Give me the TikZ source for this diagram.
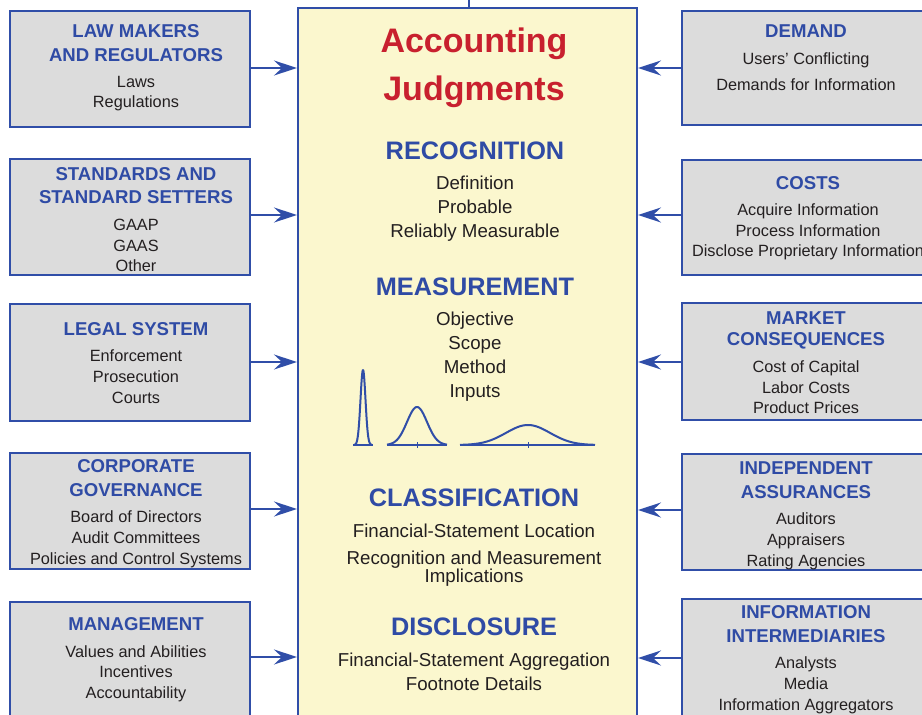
\documentclass[tikz,border=0pt]{standalone}
\usepackage{fontspec}
\setmainfont{Liberation Sans}
\usetikzlibrary{arrows.meta}
\definecolor{bblue}{RGB}{48,78,168}
\definecolor{tblue}{RGB}{47,75,165}
\definecolor{ared}{RGB}{200,32,46}
\definecolor{cyel}{RGB}{251,247,206}
\definecolor{bgray}{RGB}{220,220,220}
\definecolor{tdark}{RGB}{35,31,32}
\begin{document}
\begin{tikzpicture}[x=1pt,y=-1pt,
  box/.style={draw=bblue, line width=2pt, fill=bgray, inner sep=0pt},
  cbox/.style={draw=bblue, line width=2pt, fill=cyel, inner sep=0pt},
  hd/.style={font=\bfseries\fontsize{18.6}{20}\selectfont, text=tblue, inner sep=0pt, text height=13.3pt, text depth=0pt},
  bd/.style={font=\fontsize{16.3}{18}\selectfont, text=tdark, inner sep=0pt, text height=11.7pt, text depth=0pt},
  ch/.style={font=\bfseries\fontsize{25.3}{27}\selectfont, text=tblue, inner sep=0pt, text height=18.1pt, text depth=0pt},
  cb/.style={font=\fontsize{18.7}{20}\selectfont, text=tdark, inner sep=0pt, text height=13.4pt, text depth=0pt},
  ct/.style={font=\bfseries\fontsize{34}{36}\selectfont, text=ared, inner sep=0pt, text height=24.3pt, text depth=0pt},
  arr/.style={draw=bblue, line width=2pt, -{Stealth[length=23pt,width=15pt,inset=8pt]}},
  curve/.style={draw=bblue, line width=2pt, line join=round},
  axis/.style={draw=bblue, line width=1.5pt},
  tick/.style={draw=bblue, line width=0.8pt}
]
\useasboundingbox (0,0) rectangle (922,715);
\clip (0,0) rectangle (922,715);

% centre box
\node[cbox, minimum width=339pt, minimum height=732pt] (C) at (467.5,374) {};
\coordinate (top) at (469,0);
\draw[draw=bblue, line width=2pt] (top) -- (top |- C.north);

% left boxes
\node[box, minimum width=240pt, minimum height=116pt] (L1) at (130,69) {};
\node[box, minimum width=240pt, minimum height=116pt] (L2) at (130,217) {};
\node[box, minimum width=240pt, minimum height=117pt] (L3) at (130,362.5) {};
\node[box, minimum width=240pt, minimum height=116pt] (L4) at (130,511) {};
\node[box, minimum width=240pt, minimum height=130pt] (L5) at (130,667) {};

% right boxes
\node[box, minimum width=253pt, minimum height=114pt] (R1) at (808.5,68) {};
\node[box, minimum width=253pt, minimum height=115pt] (R2) at (808.5,217.5) {};
\node[box, minimum width=253pt, minimum height=117pt] (R3) at (808.5,361.5) {};
\node[box, minimum width=253pt, minimum height=116pt] (R4) at (808.5,512) {};
\node[box, minimum width=253pt, minimum height=130pt] (R5) at (808.5,664) {};

% arrows
\coordinate (ya) at (0,68);
\coordinate (yb) at (0,215);
\coordinate (yc) at (0,362);
\coordinate (yd) at (0,509);
\coordinate (ye) at (0,657);
\draw[arr] (L1.east |- ya) -- (C.west |- ya);
\draw[arr] (L2.east |- yb) -- (C.west |- yb);
\draw[arr] (L3.east |- yc) -- (C.west |- yc);
\draw[arr] (L4.east |- yd) -- (C.west |- yd);
\draw[arr] (L5.east |- ye) -- (C.west |- ye);
\coordinate (za) at (0,68);
\coordinate (zb) at (0,215);
\coordinate (zc) at (0,362);
\coordinate (zd) at (0,510);
\coordinate (ze) at (0,658);
\draw[arr] (R1.west |- za) -- (C.east |- za);
\draw[arr] (R2.west |- zb) -- (C.east |- zb);
\draw[arr] (R3.west |- zc) -- (C.east |- zc);
\draw[arr] (R4.west |- zd) -- (C.east |- zd);
\draw[arr] (R5.west |- ze) -- (C.east |- ze);

% left texts
\node[hd] (l1a) at (136,31) {LAW MAKERS};
\node[hd] (l1b) at (136,55) {AND REGULATORS};
\node[bd] (l1c) at (136,82) {Laws};
\node[bd] (l1d) at (136,102) {Regulations};

\node[hd] (l2a) at (136,174) {STANDARDS AND};
\node[hd] (l2b) at (136,197) {STANDARD SETTERS};
\node[bd] (l2c) at (136,225) {GAAP};
\node[bd] (l2d) at (136,246) {GAAS};
\node[bd] (l2e) at (136,266) {Other};

\node[hd] (l3a) at (136,329) {LEGAL SYSTEM};
\node[bd] (l3b) at (136,356) {Enforcement};
\node[bd] (l3c) at (136,377) {Prosecution};
\node[bd] (l3d) at (136,398) {Courts};

\node[hd] (l4a) at (136,466) {CORPORATE};
\node[hd] (l4b) at (136,490) {GOVERNANCE};
\node[bd] (l4c) at (136,517) {Board of Directors};
\node[bd] (l4d) at (136,538) {Audit Committees};
\node[bd] (l4e) at (136,559) {Policies and Control Systems};

\node[hd] (l5a) at (136,624) {MANAGEMENT};
\node[bd] (l5b) at (136,652) {Values and Abilities};
\node[bd] (l5c) at (136,672) {Incentives};
\node[bd] (l5d) at (136,693) {Accountability};

% right texts
\node[hd] (r1a) at (806,31) {DEMAND};
\node[bd] (r1b) at (806,59) {Users’ Conflicting};
\node[bd] (r1c) at (806,85) {Demands for Information};

\node[hd] (r2a) at (808,183) {COSTS};
\node[bd] (r2b) at (808,210) {Acquire Information};
\node[bd] (r2c) at (808,231) {Process Information};
\node[bd] (r2d) at (808,251) {Disclose Proprietary Information};

\node[hd] (r3a) at (806,318) {MARKET};
\node[hd] (r3b) at (806,339) {CONSEQUENCES};
\node[bd] (r3c) at (806,367) {Cost of Capital};
\node[bd] (r3d) at (806,388) {Labor Costs};
\node[bd] (r3e) at (806,408) {Product Prices};

\node[hd] (r4a) at (806,468) {INDEPENDENT};
\node[hd] (r4b) at (806,492) {ASSURANCES};
\node[bd] (r4c) at (806,519) {Auditors};
\node[bd] (r4d) at (806,540) {Appraisers};
\node[bd] (r4e) at (806,561) {Rating Agencies};

\node[hd] (r5a) at (806,612) {INFORMATION};
\node[hd] (r5b) at (806,636) {INTERMEDIARIES};
\node[bd] (r5c) at (806,663) {Analysts};
\node[bd] (r5d) at (806,684) {Media};
\node[bd] (r5e) at (806,705) {Information Aggregators};

% centre texts
\node[ct] (c1) at (474,40) {Accounting};
\node[ct] (c2) at (474,88) {Judgments};
\node[ch] (c3) at (475,150) {RECOGNITION};
\node[cb] (c4) at (475,183) {Definition};
\node[cb] (c5) at (475,207) {Probable};
\node[cb] (c6) at (475,231) {Reliably Measurable};
\node[ch] (c7) at (475,286) {MEASUREMENT};
\node[cb] (c8) at (475,319) {Objective};
\node[cb] (c9) at (475,343) {Scope};
\node[cb] (c10) at (475,367) {Method};
\node[cb] (c11) at (475,391) {Inputs};
\node[ch] (c12) at (474,497) {CLASSIFICATION};
\node[cb] (c13) at (474,531) {Financial-Statement Location};
\node[cb] (c14) at (474,558) {Recognition and Measurement};
\node[cb] (c15) at (474,576) {Implications};
\node[ch] (c16) at (474,626) {DISCLOSURE};
\node[cb] (c17) at (474,660) {Financial-Statement Aggregation};
\node[cb] (c18) at (474,684) {Footnote Details};

% distribution curves
\draw[axis] (353,445) -- (373,445);
\draw[axis] (387,445) -- (447,445);
\draw[axis] (460,445) -- (595,445);
\draw[tick] (417,442) -- (417,448);
\draw[tick] (528,442) -- (528,448);
\draw[curve] plot[domain=-9:9, samples=80, smooth] ({363+\x},{445-75*exp(-\x*\x/12.5)});
\draw[curve] plot[domain=-30:30, samples=80, smooth] ({417+\x},{445-38*exp(-\x*\x/200)});
\draw[curve] plot[domain=-68:67, samples=100, smooth] ({528+\x},{445-20*exp(-\x*\x/968)});
\end{tikzpicture}
\end{document}
